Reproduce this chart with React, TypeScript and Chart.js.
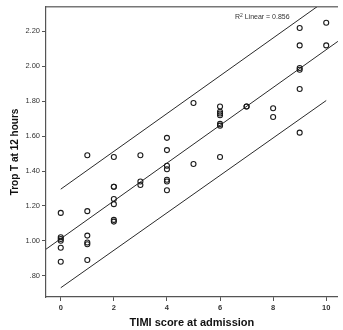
import React, { useEffect, useRef } from "react";
import { Chart, registerables } from "chart.js";

Chart.register(...registerables);

// ---- data ----
const timiScore = [
  0, 0, 0, 0, 0, 0,
  1, 1, 1, 1, 1, 1,
  2, 2, 2, 2, 2, 2, 2,
  3, 3, 3,
  4, 4, 4, 4, 4, 4, 4,
  5, 5,
  6, 6, 6, 6, 6, 6, 6,
  7, 7,
  8, 8,
  9, 9, 9, 9, 9, 9,
  10, 10,
];
const tropT = [
  1.16, 1.02, 1.01, 1.0, 0.96, 0.88,
  1.49, 1.17, 1.03, 0.99, 0.98, 0.89,
  1.48, 1.31, 1.31, 1.24, 1.21, 1.12, 1.11,
  1.49, 1.34, 1.32,
  1.59, 1.52, 1.43, 1.41, 1.35, 1.34, 1.29,
  1.79, 1.44,
  1.77, 1.74, 1.73, 1.72, 1.67, 1.66, 1.48,
  1.77, 1.77,
  1.76, 1.71,
  2.22, 2.12, 1.99, 1.98, 1.87, 1.62,
  2.25, 2.12,
];

const fitX = [-0.556, 10.44];
const fitY = [0.952, 2.143];
const upperX = [0, 10];
const upperY = [1.296, 2.379];
const lowerX = [0, 10];
const lowerY = [0.731, 1.804];

const xRange = [-0.556, 10.44];
const yRange = [0.678, 2.34];
const xTicks = [0, 2, 4, 6, 8, 10];
const xTickLabels = ["0", "2", "4", "6", "8", "10"];
const yTicks = [0.8, 1.0, 1.2, 1.4, 1.6, 1.8, 2.0, 2.2];
const yTickLabels = [".80", "1.00", "1.20", "1.40", "1.60", "1.80", "2.00", "2.20"];

const xTitle = "TIMI score at admission";
const yTitle = "Trop T at 12 hours";
const r2Base = "R";
const r2Sup = "2";
const r2Rest = " Linear = 0.856";
const r2Anchor = [6.56, 2.28];

const FONT = "'Liberation Sans', Arial, sans-serif";
const AXIS_COLOR = "#555";
const TEXT_COLOR = "#333";

const toPoints = (xs: number[], ys: number[]) => xs.map((x, i) => ({ x, y: ys[i] }));

const r2Plugin = {
  id: "r2Label",
  afterDatasetsDraw(chart: any) {
    const { ctx, scales } = chart;
    let px = scales.x.getPixelForValue(r2Anchor[0]);
    const py = scales.y.getPixelForValue(r2Anchor[1]);
    ctx.save();
    ctx.fillStyle = TEXT_COLOR;
    ctx.textBaseline = "middle";
    ctx.textAlign = "left";
    ctx.font = `7px ${FONT}`;
    ctx.fillText(r2Base, px, py);
    px += ctx.measureText(r2Base).width;
    ctx.font = `5px ${FONT}`;
    ctx.fillText(r2Sup, px, py - 2);
    px += ctx.measureText(r2Sup).width;
    ctx.font = `7px ${FONT}`;
    ctx.fillText(r2Rest, px, py);
    ctx.restore();
  },
};

export default function App() {
  const ref = useRef<HTMLCanvasElement | null>(null);

  useEffect(() => {
    if (!ref.current) return;
    const lineStyle = {
      type: "line" as const,
      showLine: true,
      pointRadius: 0,
      borderColor: "#2a2a2a",
      borderWidth: 1,
      fill: false,
      tension: 0,
    };
    const chart = new Chart(ref.current, {
      type: "scatter",
      data: {
        datasets: [
          {
            label: "Observed",
            data: toPoints(timiScore, tropT),
            pointStyle: "circle",
            pointRadius: 2.5,
            pointBorderWidth: 1.1,
            borderColor: "#1a1a1a",
            backgroundColor: "rgba(0,0,0,0)",
          } as any,
          { label: "Fit", data: toPoints(fitX, fitY), ...lineStyle } as any,
          { label: "Upper", data: toPoints(upperX, upperY), ...lineStyle } as any,
          { label: "Lower", data: toPoints(lowerX, lowerY), ...lineStyle } as any,
        ],
      },
      options: {
        animation: false,
        responsive: false,
        layout: { padding: 0 },
        plugins: { legend: { display: false }, tooltip: { enabled: false } },
        scales: {
          x: {
            type: "linear",
            position: "bottom",
            min: xRange[0],
            max: xRange[1],
            afterBuildTicks: (s: any) => {
              s.ticks = xTicks.map((v) => ({ value: v }));
            },
            afterFit: (s: any) => {
              s.height = 33;
            },
            ticks: {
              callback: (_v: any, i: number) => xTickLabels[i],
              font: { family: FONT, size: 7.5, weight: "bold" },
              color: TEXT_COLOR,
              padding: 2,
              maxRotation: 0,
            },
            grid: {
              display: true,
              drawOnChartArea: false,
              drawTicks: true,
              tickLength: 4,
              color: AXIS_COLOR,
              lineWidth: 1,
            },
            border: { display: true, color: AXIS_COLOR, width: 1.2 },
            title: {
              display: true,
              text: xTitle,
              color: "#111",
              font: { family: FONT, size: 11, weight: "bold" },
              padding: { top: 0, bottom: 0 },
            },
          },
          xTop: {
            type: "linear",
            position: "top",
            min: xRange[0],
            max: xRange[1],
            afterFit: (s: any) => {
              s.height = 7;
            },
            ticks: { display: false },
            grid: { display: false },
            border: { display: true, color: "#777", width: 1.5 },
          },
          y: {
            type: "linear",
            position: "left",
            min: yRange[0],
            max: yRange[1],
            afterBuildTicks: (s: any) => {
              s.ticks = yTicks.map((v) => ({ value: v }));
            },
            afterFit: (s: any) => {
              s.width = 46;
            },
            ticks: {
              callback: (_v: any, i: number) => yTickLabels[i],
              font: { family: FONT, size: 7.5 },
              color: TEXT_COLOR,
              padding: 2,
            },
            grid: {
              display: true,
              drawOnChartArea: false,
              drawTicks: true,
              tickLength: 4,
              color: AXIS_COLOR,
              lineWidth: 1,
            },
            border: { display: true, color: AXIS_COLOR, width: 1.2 },
            title: {
              display: true,
              text: yTitle,
              color: "#111",
              font: { family: FONT, size: 10, weight: "bold" },
              padding: { top: 9, bottom: 0 },
            },
          },
        },
      } as any,
      plugins: [r2Plugin],
    });
    return () => chart.destroy();
  }, []);

  return (
    <div style={{ position: "fixed", left: 0, top: 0, width: 343, height: 330, background: "#fff" }}>
      <canvas ref={ref} width={343} height={330} style={{ display: "block" }} />
    </div>
  );
}
